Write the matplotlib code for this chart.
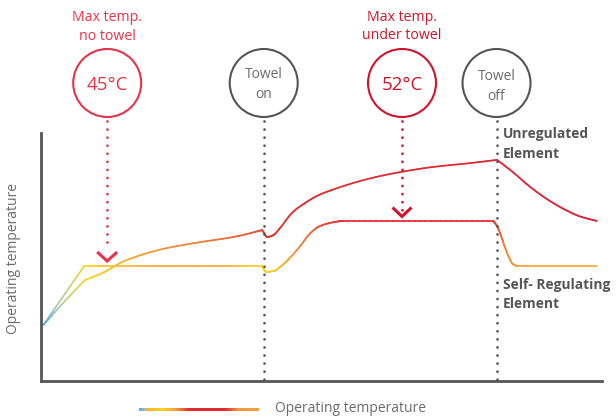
import numpy as np
import matplotlib
matplotlib.use("Agg")
import matplotlib.pyplot as plt
from matplotlib.collections import LineCollection
from matplotlib.colors import LinearSegmentedColormap, to_rgb
from matplotlib.patches import Circle

plt.rcParams['font.family'] = ['Open Sans', 'DejaVu Sans']
plt.rcParams['lines.scale_dashes'] = False

# ---------------- data (time in % of run, temperature in °C) ----------------
self_reg_time = [0.4, 7.7, 19.4, 28.3, 39.4, 39.8, 40.1, 41.4, 43.1, 44.4, 46.2, 48.0,
                 49.7, 52.1, 53.8, 67.6, 80.6, 81.3, 82.0, 82.7, 83.4, 84.1, 85.0, 99.1]
self_reg_temp = [35.8, 45.0, 45.0, 45.0, 45.0, 44.4, 44.1, 44.2, 45.2, 46.3, 48.1, 50.1,
                 51.2, 51.8, 52.0, 52.0, 52.0, 51.2, 49.7, 47.9, 46.4, 45.3, 45.0, 45.0]
self_reg_corners = [1, 4, 16]

unreg_time = [0.4, 4.1, 7.8, 10.9, 12.8, 14.4, 16.8, 18.5, 22.5, 28.3, 34.2, 37.3, 39.4,
              39.8, 40.3, 41.4, 42.6, 44.9, 47.1, 49.2, 52.1, 58.1, 64.0, 69.9, 76.5,
              81.3, 84.1, 87.2, 90.2, 93.1, 96.1, 99.1]
unreg_temp = [35.8, 39.4, 42.8, 43.9, 44.8, 45.6, 46.4, 46.9, 47.8, 48.7, 49.5, 50.1, 50.6,
              50.1, 49.5, 49.8, 50.9, 53.4, 54.8, 55.9, 56.9, 58.5, 59.6, 60.4, 61.0,
              61.5, 59.6, 57.3, 55.4, 53.9, 52.7, 52.0]
unreg_corners = [2, 12, 25]

towel_on_time = 39.7
towel_off_time = 81.2
max_no_towel_time = 11.8
max_under_towel_time = 64.35

# colour stops along each curve (time, colour)
self_reg_colors = [(0, '#5aa8e0'), (3, '#a9cfb0'), (7.7, '#fdd21a'), (12, '#f9c22a'),
                   (20, '#f6a640'), (32, '#f6a640'), (38, '#fbcf22'), (41, '#fbcf22'),
                   (45, '#f49a3a'), (50, '#ea4a34'), (54, '#e3242f'), (80.5, '#e3242f'),
                   (83, '#f28a35'), (86, '#f6a33c'), (100, '#f6a33c')]
unreg_colors = [(0, '#5aa8e0'), (3, '#a9cfb0'), (8, '#fdd21a'), (15, '#f9b43a'),
                (20, '#f49a3a'), (38, '#ea5a34'), (41, '#e3302f'), (100, '#e31e35')]
legend_colors = [(0, '#5aa8e0'), (0.035, '#7fbfd8'), (0.06, '#f6b23a'), (0.2, '#fcd116'),
                 (0.3, '#f6a33c'), (0.42, '#e42a30'), (0.72, '#e42a30'), (0.83, '#f39a3a'),
                 (1, '#f6a33c')]

W, H = 616, 417
fig = plt.figure(figsize=(W / 100, H / 100), dpi=100)
ax = fig.add_axes([41 / W, (H - 381) / H, (602 - 41) / W, (381 - 133) / H])
ax.set_xlim(0, 100)
ax.set_ylim(27.12, 65.68)
for s in ['top', 'right']:
    ax.spines[s].set_visible(False)
for s in ['left', 'bottom']:
    ax.spines[s].set_color('#555555')
    ax.spines[s].set_linewidth(2.0)
ax.set_xticks([])
ax.set_yticks([])
ax.patch.set_alpha(0)


def cmap_from(stops, vmax):
    return LinearSegmentedColormap.from_list(
        'c', [(p / vmax, to_rgb(c)) for p, c in stops])


def pchip_piece(x, y, n=14):
    x = np.asarray(x, float); y = np.asarray(y, float)
    if len(x) == 2:
        f = np.linspace(0, 1, n)
        return x[0] + (x[1] - x[0]) * f, y[0] + (y[1] - y[0]) * f
    h = np.diff(x); dl = np.diff(y) / h
    d = np.zeros_like(x)
    d[0], d[-1] = dl[0], dl[-1]
    for k in range(1, len(x) - 1):
        if dl[k - 1] * dl[k] <= 0:
            d[k] = 0
        else:
            w1 = 2 * h[k] + h[k - 1]; w2 = h[k] + 2 * h[k - 1]
            d[k] = (w1 + w2) / (w1 / dl[k - 1] + w2 / dl[k])
    xs, ys = [], []
    for i in range(len(x) - 1):
        s = np.linspace(0, 1, n, endpoint=False)
        h00 = 2 * s**3 - 3 * s**2 + 1; h10 = s**3 - 2 * s**2 + s
        h01 = -2 * s**3 + 3 * s**2; h11 = s**3 - s**2
        xs.extend(x[i] + s * h[i])
        ys.extend(h00 * y[i] + h10 * h[i] * d[i] + h01 * y[i + 1] + h11 * h[i] * d[i + 1])
    xs.append(x[-1]); ys.append(y[-1])
    return np.array(xs), np.array(ys)


def gradient_line(t, y, corners, stops):
    idx = [0] + corners + [len(t) - 1]
    pts_t, pts_y = [], []
    for a, b in zip(idx[:-1], idx[1:]):
        xs, ys = pchip_piece(t[a:b + 1], y[a:b + 1])
        if pts_t:
            xs, ys = xs[1:], ys[1:]
        pts_t.extend(xs); pts_y.extend(ys)
    pts_t = np.array(pts_t); pts_y = np.array(pts_y)
    pts = np.column_stack([pts_t, pts_y]).reshape(-1, 1, 2)
    segs = np.concatenate([pts[:-1], pts[1:]], axis=1)
    cmap = cmap_from(stops, 100)
    mids = (pts_t[:-1] + pts_t[1:]) / 2
    lc = LineCollection(segs, colors=cmap(mids / 100), linewidths=1.2,
                        capstyle='round', joinstyle='round')
    ax.add_collection(lc)


gradient_line(unreg_time, unreg_temp, unreg_corners, unreg_colors)
gradient_line(self_reg_time, self_reg_temp, self_reg_corners, self_reg_colors)

# ---------------- overlay for annotations (pixel space) ----------------
ov = fig.add_axes([0, 0, 1, 1])
ov.set_xlim(0, W)
ov.set_ylim(H, 0)
ov.axis('off')
ov.patch.set_alpha(0)


def px(t):
    return ax.transData.transform((t, 40))[0]


RED1 = '#e8334a'
RED2 = '#d0142c'
GREY = '#555555'
GTXT = '#6b6b6b'

dot_kw = dict(lw=2.0, dashes=(0.01, 5.8), dash_capstyle='round')

x_on, x_off = px(towel_on_time), px(towel_off_time)
x_m1, x_m2 = px(max_no_towel_time), px(max_under_towel_time)

ov.plot([x_on, x_on], [121, 380], color=GREY, **dot_kw)
ov.plot([x_off, x_off], [121, 380], color=GREY, **dot_kw)
ov.plot([x_m1, x_m1], [121, 249], color=RED1, **dot_kw)
ov.plot([x_m2, x_m2], [121, 211], color=RED2, **dot_kw)

# chevrons
ov.plot([x_m1 - 10, x_m1, x_m1 + 10], [252, 261, 252], color=RED1, lw=2.2,
        solid_capstyle='butt', solid_joinstyle='miter')
ov.plot([x_m2 - 9.5, x_m2, x_m2 + 9.5], [207.5, 216.5, 207.5], color=RED2, lw=2.2,
        solid_capstyle='butt', solid_joinstyle='miter')

# circles
for cx, col in [(x_m1, RED1), (x_on, GREY), (x_m2, RED2), (x_off, GREY)]:
    ov.add_patch(Circle((cx, 83), 34, fill=False, ec=col, lw=1.5))

ov.text(x_m1, 85, '45°C', color=RED1, fontsize=13.5, ha='center', va='center')
ov.text(x_m2, 85, '52°C', color=RED2, fontsize=13.5, ha='center', va='center')
ov.text(x_on, 74, 'Towel', color=GTXT, fontsize=10, ha='center', va='center')
ov.text(x_on, 94, 'on', color=GTXT, fontsize=10, ha='center', va='center')
ov.text(x_off, 76, 'Towel', color=GTXT, fontsize=10, ha='center', va='center')
ov.text(x_off, 96, 'off', color=GTXT, fontsize=10, ha='center', va='center')

ov.text(x_m1, 17, 'Max temp.', color=RED1, fontsize=10.2, ha='center', va='center')
ov.text(x_m1, 36, 'no towel', color=RED1, fontsize=10.2, ha='center', va='center')
ov.text(x_m2, 17, 'Max temp.', color=RED2, fontsize=10.2, ha='center', va='center')
ov.text(x_m2, 35, 'under towel', color=RED2, fontsize=10.2, ha='center', va='center')

lab_kw = dict(color=GREY, fontsize=9.9, fontweight='bold', ha='left', va='center')
ov.text(503, 134, 'Unregulated', **lab_kw)
ov.text(503, 154, 'Element', **lab_kw)
ov.text(503, 285, 'Self- Regulating', **lab_kw)
ov.text(503, 304, 'Element', **lab_kw)

ov.text(14, 259, 'Operating temperature', color=GTXT, fontsize=10, rotation=90,
        ha='center', va='center')

# legend gradient bar
grad = np.linspace(0, 1, 256).reshape(1, -1)
ov.imshow(grad, cmap=cmap_from(legend_colors, 1), extent=(139, 259, 411.5, 408.5),
          aspect='auto', interpolation='bilinear')
ov.set_xlim(0, W)
ov.set_ylim(H, 0)
ov.text(275, 409, 'Operating temperature', color=GTXT, fontsize=10, ha='left',
        va='center')

fig.savefig('out.png', dpi=100)
